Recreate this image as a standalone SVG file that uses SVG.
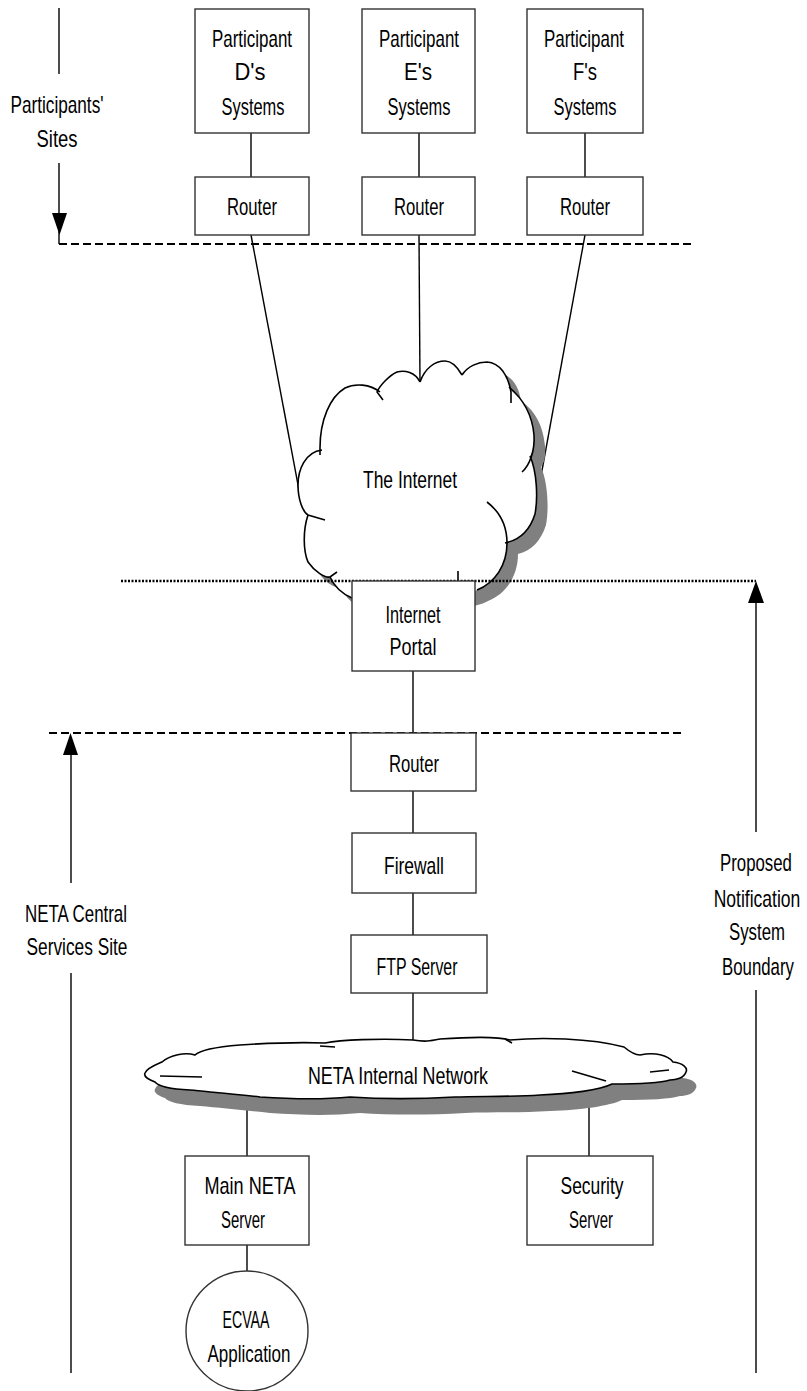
<svg xmlns="http://www.w3.org/2000/svg" width="807" height="1391" viewBox="0 0 807 1391">
<style>
.bx{fill:#fff;stroke:#333;stroke-width:1.4}
.ln{stroke:#000;stroke-width:1.4;fill:none}
.t{font-family:"Liberation Sans",Arial,sans-serif;font-size:24px;fill:#000;text-anchor:middle}
.cl{fill:#fff;stroke:#000;stroke-width:1.6}
.sh{fill:#808080;stroke:none}
.tk{fill:none;stroke:#000;stroke-width:1.6}
</style>
<defs>
<path id="inetBody" d="M420,382 C425,368 435,361 445,361 C452,361 458,368 462,375 C468,366 478,362 487,362 C500,363 508,375 510,390 C522,398 532,412 534,435 C535,446 533,452 530,456 C537,472 538,498 535,514 C530,530 520,540 507,543 C507,565 495,583 477,590 C460,600 400,602 352,598 C345,595 335,588 330,577 C322,577 313,570 308,562 C303,550 303,530 308,515 C302,510 298,498 298,485 C298,470 305,454 320,449 C320,420 330,397 345,388 C355,383 370,384 380,392 C384,384 390,375 397,372 C405,370 415,372 420,382 Z"/>
<path id="netaBody" d="M162,1062 C170,1055 185,1052 195,1055 C200,1050 215,1047 240,1045 C270,1043 300,1042 325,1043 C340,1040 380,1038 413,1040 C425,1042 430,1041 440,1039 C470,1037 500,1037 510,1040 C540,1037 590,1038 624,1047 C630,1052 636,1055 640,1055 C655,1052 668,1055 673,1062 C683,1063 688,1068 686,1072 C684,1078 676,1080 670,1080 C660,1083 640,1084 612,1084 C600,1090 570,1094 540,1095 C510,1097 480,1096 455,1097 C420,1099 380,1099 350,1097 C320,1100 290,1099 260,1097 C235,1094 210,1092 190,1090 C170,1089 158,1086 155,1082 C150,1080 143,1077 145,1073 C147,1068 155,1065 162,1062 Z"/>
</defs>

<g id="connectors">
<line class="ln" x1="251" y1="133" x2="251" y2="177"/>
<line class="ln" x1="419" y1="133" x2="419" y2="177"/>
<line class="ln" x1="585" y1="133" x2="585" y2="177"/>
<line class="ln" x1="251" y1="235" x2="299" y2="490"/>
<line class="ln" x1="419" y1="235" x2="420" y2="384"/>
<line class="ln" x1="585" y1="235" x2="541" y2="476"/>
<line class="ln" x1="413" y1="671" x2="413" y2="733"/>
<line class="ln" x1="413" y1="791" x2="413" y2="833"/>
<line class="ln" x1="413" y1="893" x2="413" y2="935"/>
<line class="ln" x1="413" y1="993" x2="413" y2="1042"/>
<line class="ln" x1="247" y1="1100" x2="247" y2="1156"/>
<line class="ln" x1="589" y1="1095" x2="589" y2="1156"/>
<line class="ln" x1="247" y1="1245" x2="247" y2="1271"/>
</g>

<g id="internet">
<use href="#inetBody" class="sh" transform="translate(11,11)"/>
<use href="#inetBody" fill="#fff" stroke="none"/>
<path class="tk" d="M420,382 C425,368 435,361 445,361 C452,361 458,368 462,375"/>
<path class="tk" d="M462,375 C468,366 478,362 487,362 C500,363 508,375 511,392 L511,403"/>
<path class="tk" d="M509,387 C522,398 532,412 534,435 C535,450 530,465 522,472"/>
<path class="tk" d="M530,456 C537,472 538,498 535,514 C530,530 520,540 505,543"/>
<path class="tk" d="M487,502 C500,512 507,525 507,543 C507,565 495,583 477,590"/>
<path class="tk" d="M420,382 C415,372 405,370 397,372 C390,375 380,385 377,392 L383,400"/>
<path class="tk" d="M380,392 C370,384 355,383 345,388 C330,397 320,420 320,448 L320,455"/>
<path class="tk" d="M322,450 C305,452 298,470 298,485 C298,500 303,512 308,515 L325,520"/>
<path class="tk" d="M308,515 C303,530 303,550 308,562 C315,572 325,578 330,577 L337,572"/>
<path class="tk" d="M330,577 C335,588 345,595 352,598"/>
<line class="tk" x1="458" y1="571" x2="458" y2="582"/>
<text class="t" x="410" y="488" textLength="94" lengthAdjust="spacingAndGlyphs">The Internet</text>
</g>

<g id="neta-network">
<use href="#netaBody" class="sh" transform="translate(10,16)"/>
<use href="#netaBody" class="cl"/>
<line class="tk" x1="320" y1="1046" x2="335" y2="1047"/>
<line class="tk" x1="160" y1="1076" x2="202" y2="1077"/>
<line class="tk" x1="572" y1="1071" x2="606" y2="1081"/>
<line class="tk" x1="650" y1="1072" x2="669" y2="1070"/>
<line class="tk" x1="505" y1="1039" x2="512" y2="1043"/>
<text class="t" x="398" y="1084" textLength="180" lengthAdjust="spacingAndGlyphs">NETA Internal Network</text>
</g>

<g id="boundaries">
<line x1="59" y1="244" x2="693" y2="244" stroke="#000" stroke-width="2" stroke-dasharray="8 4"/>
<line x1="121" y1="581" x2="756" y2="581" stroke="#000" stroke-width="2.5" stroke-dasharray="2 1.5"/>
<line x1="49" y1="733" x2="685" y2="733" stroke="#000" stroke-width="2" stroke-dasharray="8 4"/>
</g>

<g id="participants-sites">
<line class="ln" x1="59" y1="8" x2="59" y2="74"/>
<line class="ln" x1="59" y1="163" x2="59" y2="244"/>
<polygon points="52,213 67,213 59.5,235" fill="#000"/>
<text class="t" x="57" y="113" textLength="93" lengthAdjust="spacingAndGlyphs">Participants'</text>
<text class="t" x="57" y="147" textLength="41" lengthAdjust="spacingAndGlyphs">Sites</text>
</g>

<g id="central-site">
<line class="ln" x1="71" y1="745" x2="71" y2="883"/>
<line class="ln" x1="71" y1="973" x2="71" y2="1373"/>
<polygon points="63,755 78,755 70.5,733" fill="#000"/>
<text class="t" x="76" y="922" textLength="102" lengthAdjust="spacingAndGlyphs">NETA Central</text>
<text class="t" x="77" y="955" textLength="101" lengthAdjust="spacingAndGlyphs">Services Site</text>
</g>

<g id="system-boundary">
<line class="ln" x1="756" y1="595" x2="756" y2="832"/>
<line class="ln" x1="756" y1="990" x2="756" y2="1373"/>
<polygon points="748,603 764,603 756,581" fill="#000"/>
<text class="t" transform="translate(756,871) scale(0.7,1)" x="0" y="0">Proposed</text>
<text class="t" transform="translate(757,907) scale(0.73,1)" x="0" y="0">Notification</text>
<text class="t" transform="translate(757,940) scale(0.7,1)" x="0" y="0">System</text>
<text class="t" transform="translate(758,975) scale(0.7,1)" x="0" y="0">Boundary</text>
</g>

<g id="participant-d">
<rect class="bx" x="195" y="9" width="114" height="124"/>
<text class="t" x="252" y="47" textLength="80" lengthAdjust="spacingAndGlyphs">Participant</text>
<text class="t" x="250" y="80" textLength="31" lengthAdjust="spacingAndGlyphs">D's</text>
<text class="t" x="253" y="115" textLength="63" lengthAdjust="spacingAndGlyphs">Systems</text>
</g>
<g id="participant-e">
<rect class="bx" x="362" y="9" width="113" height="124"/>
<text class="t" x="419" y="47" textLength="80" lengthAdjust="spacingAndGlyphs">Participant</text>
<text class="t" x="418" y="80" textLength="28" lengthAdjust="spacingAndGlyphs">E's</text>
<text class="t" x="419" y="115" textLength="63" lengthAdjust="spacingAndGlyphs">Systems</text>
</g>
<g id="participant-f">
<rect class="bx" x="527" y="9" width="116" height="124"/>
<text class="t" x="584" y="47" textLength="80" lengthAdjust="spacingAndGlyphs">Participant</text>
<text class="t" x="585" y="80" textLength="24" lengthAdjust="spacingAndGlyphs">F's</text>
<text class="t" x="585" y="115" textLength="63" lengthAdjust="spacingAndGlyphs">Systems</text>
</g>
<g id="router-d">
<rect class="bx" x="195" y="177" width="114" height="58"/>
<text class="t" x="252" y="215" textLength="50" lengthAdjust="spacingAndGlyphs">Router</text>
</g>
<g id="router-e">
<rect class="bx" x="362" y="177" width="113" height="58"/>
<text class="t" x="419" y="215" textLength="50" lengthAdjust="spacingAndGlyphs">Router</text>
</g>
<g id="router-f">
<rect class="bx" x="527" y="177" width="116" height="58"/>
<text class="t" x="585" y="215" textLength="50" lengthAdjust="spacingAndGlyphs">Router</text>
</g>

<g id="internet-portal">
<rect class="bx" x="352" y="581" width="123" height="90"/>
<text class="t" x="413" y="623" textLength="55" lengthAdjust="spacingAndGlyphs">Internet</text>
<text class="t" x="413" y="655" textLength="47" lengthAdjust="spacingAndGlyphs">Portal</text>
</g>
<g id="router-central">
<rect class="bx" x="351" y="733" width="125" height="58"/>
<text class="t" x="414" y="772" textLength="50" lengthAdjust="spacingAndGlyphs">Router</text>
</g>
<g id="firewall">
<rect class="bx" x="352" y="833" width="124" height="60"/>
<text class="t" x="414" y="874" textLength="60" lengthAdjust="spacingAndGlyphs">Firewall</text>
</g>
<g id="ftp-server">
<rect class="bx" x="351" y="935" width="136" height="58"/>
<text class="t" x="417" y="975" textLength="81" lengthAdjust="spacingAndGlyphs">FTP Server</text>
</g>
<g id="main-neta-server">
<rect class="bx" x="185" y="1156" width="124" height="89"/>
<text class="t" x="250" y="1194" textLength="91" lengthAdjust="spacingAndGlyphs">Main NETA</text>
<text class="t" x="243" y="1228" textLength="44" lengthAdjust="spacingAndGlyphs">Server</text>
</g>
<g id="security-server">
<rect class="bx" x="527" y="1156" width="126" height="89"/>
<text class="t" x="592" y="1194" textLength="63" lengthAdjust="spacingAndGlyphs">Security</text>
<text class="t" x="591" y="1228" textLength="44" lengthAdjust="spacingAndGlyphs">Server</text>
</g>
<g id="ecvaa-application">
<ellipse class="bx" cx="247" cy="1331" rx="61" ry="60"/>
<text class="t" x="246" y="1328" textLength="47" lengthAdjust="spacingAndGlyphs">ECVAA</text>
<text class="t" x="249" y="1362" textLength="83" lengthAdjust="spacingAndGlyphs">Application</text>
</g>
</svg>
